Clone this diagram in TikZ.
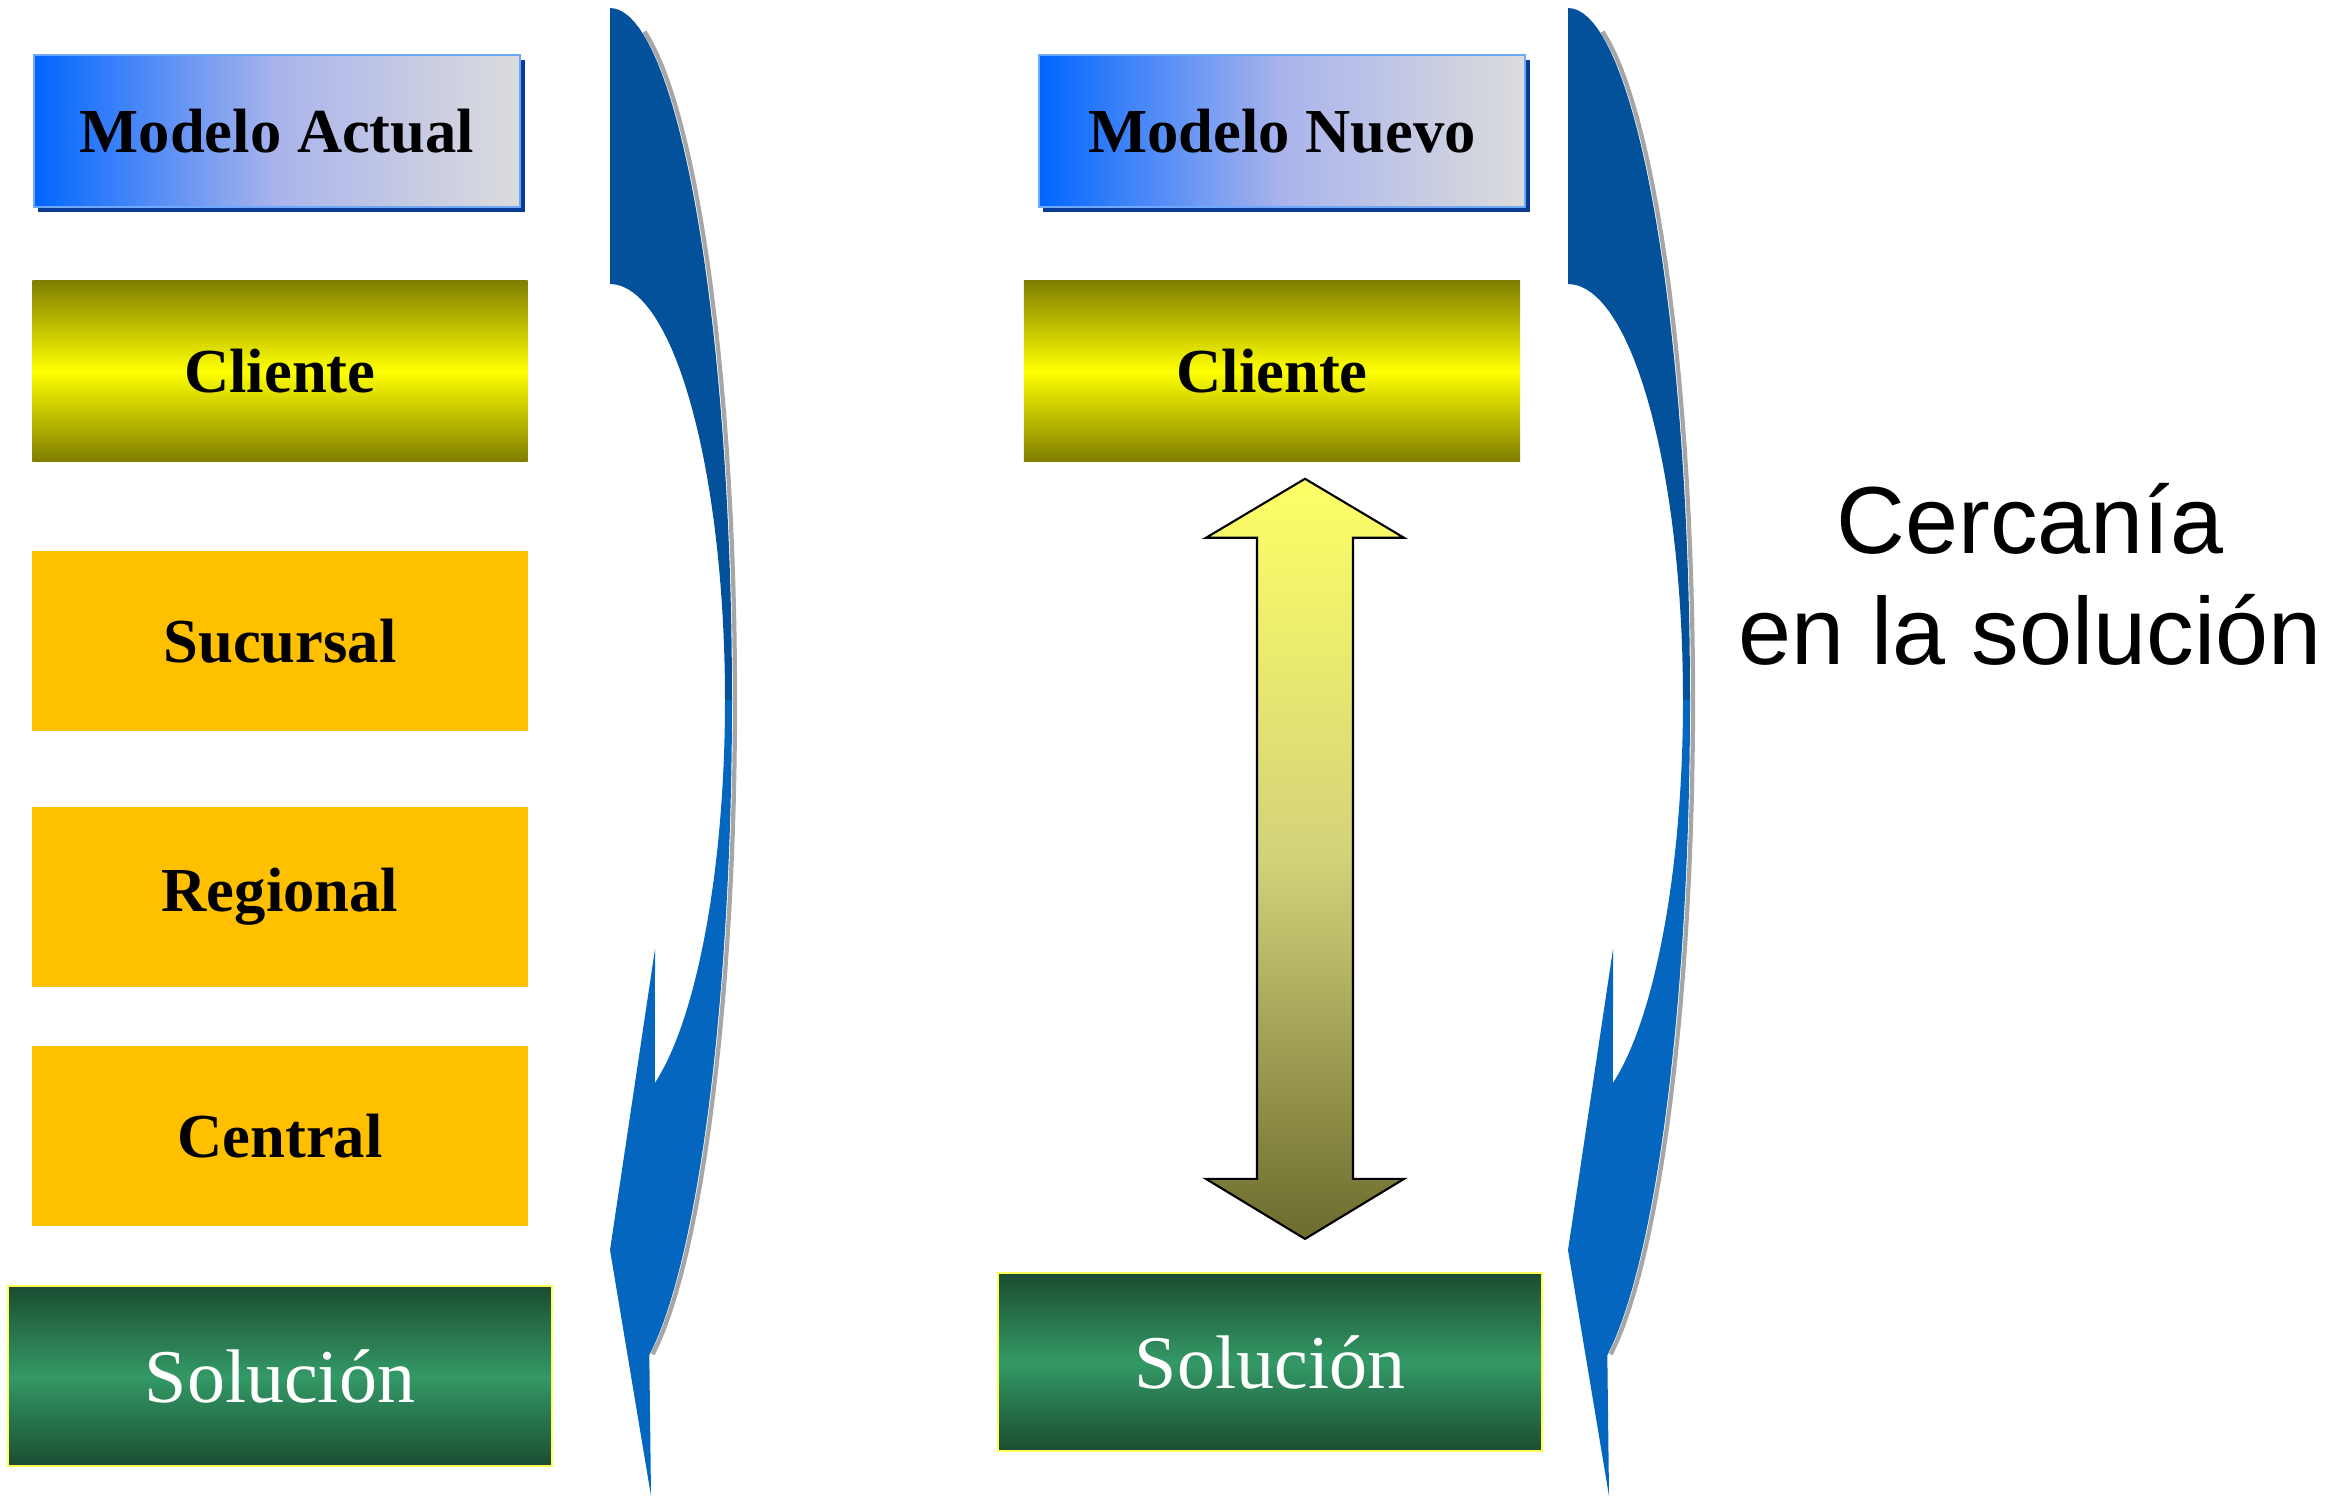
\documentclass[tikz,border=0pt]{standalone}
\usepackage{fontspec}
\setmainfont{Liberation Serif}
\newfontfamily\arialfont{Liberation Sans}
\usetikzlibrary{calc,shadows}

\definecolor{azulOsc}{HTML}{04519B}
\definecolor{azulCla}{HTML}{0566C0}
\definecolor{azulInicio}{HTML}{0066FF}
\definecolor{lavanda}{HTML}{AAB4EC}
\definecolor{grisClaro}{HTML}{DCDCDC}
\definecolor{azulBorde}{HTML}{6FA8FF}
\definecolor{azulSombra}{HTML}{0A3C96}
\definecolor{naranja}{HTML}{FFC000}
\definecolor{oliva}{HTML}{7F7F00}
\definecolor{amarillo}{HTML}{FFFF00}
\definecolor{verdeOsc}{HTML}{1B4C31}
\definecolor{verdeMed}{HTML}{339966}
\definecolor{bordeSol}{HTML}{FFFF55}
\definecolor{flechaArr}{HTML}{FFFF66}
\definecolor{flechaMed}{HTML}{D2D27A}
\definecolor{flechaAba}{HTML}{6B6B2E}

\tikzset{
  caja/.style={rectangle, inner sep=0pt, minimum width=4.95cm, minimum height=1.8cm,
    font=\fontsize{17.8}{20}\selectfont\bfseries},
  encabezado/.style={caja, minimum width=4.86cm, minimum height=1.52cm,
    left color=azulInicio, right color=grisClaro, middle color=lavanda,
    draw=azulBorde, line width=0.5pt,
    general shadow={fill=azulSombra, shadow xshift=1.3pt, shadow yshift=-1.3pt}},
  cliente/.style={caja, top color=oliva, bottom color=oliva, middle color=amarillo},
  nivel/.style={caja, fill=naranja},
  solucion/.style={caja, minimum width=5.43cm, draw=bordeSol, line width=0.6pt,
    top color=verdeOsc, bottom color=verdeOsc, middle color=verdeMed,
    text=white, font=\fontsize{21.6}{24}\selectfont}
}

\begin{document}
\begin{tikzpicture}[x=0.01cm, y=-0.01cm]
  \useasboundingbox (0,0) rectangle (2334,1496);

  % Flechas curvas
  \foreach \dx in {0,958} {
    \begin{scope}[shift={(\dx,0)}]
      \draw[gray!70, line width=1.2pt] plot[domain=-75:71, samples=50]
        ({613+122*cos(\x)},{700+692*sin(\x)});
      \fill[azulCla] plot[domain=0:71.2, samples=40] ({610+122*cos(\x)},{700+692*sin(\x)})
        -- (651,1496) -- (610,1250) -- (655,949)
        -- plot[domain=67:0, samples=40] ({610+115*cos(\x)},{700+416*sin(\x)}) -- cycle;
      \fill[azulOsc] plot[domain=-90:0, samples=40] ({610+122*cos(\x)},{700+692*sin(\x)})
        -- plot[domain=0:-90, samples=40] ({610+115*cos(\x)},{700+416*sin(\x)}) -- cycle;
    \end{scope}
  }

  % Modelo actual
  \node[encabezado] (modActual) at (277,131) {Modelo Actual};
  \node[cliente] (cli1) at (280,371) {Cliente};
  \node[nivel] (suc) at (280,641) {Sucursal};
  \node[nivel] (reg) at (280,897) {Regional};
  \node[nivel] (cen) at (280,1136) {Central};
  \node[solucion] (sol1) at (280,1376) {Solución};

  % Modelo nuevo
  \node[encabezado] (modNuevo) at (1282,131) {Modelo Nuevo};
  \node[cliente, minimum width=4.96cm] (cli2) at (1272,371) {Cliente};
  \node[solucion, minimum height=1.78cm] (sol2) at (1270,1362) {Solución};

  % Flecha doble entre cliente y solucion
  \coordinate (pArr) at ($(cli2.south)+(33,17)$);
  \coordinate (pAba) at ($(sol2.north)+(35,-33)$);
  \shade[draw=black, line width=0.6pt, top color=flechaArr, bottom color=flechaAba, middle color=flechaMed]
    (pArr) -- ($(pArr)+(99,59)$) -- ($(pArr)+(48,59)$) -- ($(pAba)+(48,-60)$)
    -- ($(pAba)+(99,-60)$) -- (pAba) -- ($(pAba)+(-99,-60)$) -- ($(pAba)+(-48,-60)$)
    -- ($(pArr)+(-48,59)$) -- ($(pArr)+(-99,59)$) -- cycle;

  % Texto lateral
  \node[font=\arialfont\fontsize{27.1}{31.6}\selectfont, align=center] (cercania) at (2030,574)
    {Cercanía\\en la solución};
\end{tikzpicture}
\end{document}
